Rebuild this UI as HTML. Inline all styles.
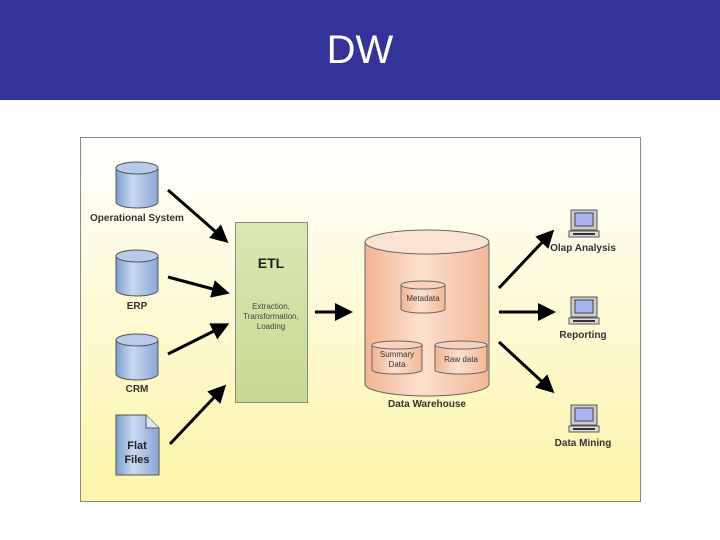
<!DOCTYPE html>
<html><head><meta charset="utf-8"><style>
body{margin:0;width:720px;height:540px;background:#fff;overflow:hidden;font-family:"Liberation Sans",sans-serif}
.h{position:absolute;left:0;top:0;width:720px;height:100px;background:#333399;color:#fff;font-size:40px;text-align:center;line-height:100px}
svg{position:absolute;left:0;top:0}
</style></head><body>
<div class="h">DW</div>
<svg width="720" height="540" font-family="Liberation Sans, sans-serif" font-weight="bold" font-size="10">
<defs>
<linearGradient id="bg" x1="0" y1="0" x2="0" y2="1"><stop offset="0" stop-color="#ffffff"/><stop offset="1" stop-color="#fcf5a8"/></linearGradient>
<linearGradient id="bl" x1="0" y1="0" x2="1" y2="0"><stop offset="0" stop-color="#7f9fd0"/><stop offset=".4" stop-color="#c9d8f0"/><stop offset="1" stop-color="#8aa6d6"/></linearGradient>
<linearGradient id="or" x1="0" y1="0" x2="1" y2="0"><stop offset="0" stop-color="#f2b493"/><stop offset=".45" stop-color="#fbe0cf"/><stop offset="1" stop-color="#f3b797"/></linearGradient>
<linearGradient id="gr" x1="0" y1="0" x2="0" y2="1"><stop offset="0" stop-color="#dce8b4"/><stop offset="1" stop-color="#c6d98f"/></linearGradient>
<marker id="a" markerWidth="6" markerHeight="6" refX="4" refY="3" orient="auto" markerUnits="strokeWidth"><path d="M0,0L6,3L0,6z" fill="#000"/></marker>
<g id="cyl"><path d="M0,6 V40 A21,6 0 0 0 42,40 V6" fill="url(#bl)" stroke="#555"/><ellipse cx="21" cy="6" rx="21" ry="6" fill="#b8cbea" stroke="#555"/></g>
<g id="pc"><rect x="0" y="0" width="26" height="20" fill="#ccc" stroke="#555"/><rect x="4" y="3" width="18" height="13" fill="#aab3f0" stroke="#444"/><rect x="-2" y="21" width="30" height="6" fill="#ddd" stroke="#555"/><rect x="2" y="23" width="22" height="2" fill="#333"/></g>
</defs>
<rect x="80.5" y="137.5" width="560" height="364" fill="url(#bg)" stroke="#888"/>
<use href="#cyl" x="116" y="162"/>
<use href="#cyl" x="116" y="250"/>
<use href="#cyl" x="116" y="334"/>
<text x="137" y="221" text-anchor="middle" fill="#333">Operational System</text>
<text x="137" y="309" text-anchor="middle" fill="#333">ERP</text>
<text x="137" y="392" text-anchor="middle" fill="#333">CRM</text>
<path d="M116,415 H146 L159,428 V475 H116z" fill="url(#bl)" stroke="#555"/>
<path d="M146,415 V428 H159" fill="#dde6f5" stroke="#555"/>
<text x="137" y="449" text-anchor="middle" font-size="11" fill="#222">Flat</text>
<text x="137" y="463" text-anchor="middle" font-size="11" fill="#222">Files</text>
<rect x="235.5" y="222.5" width="72" height="180" fill="url(#gr)" stroke="#888"/>
<text x="271" y="268" text-anchor="middle" font-size="14" fill="#222">ETL</text>
<g font-weight="normal" font-size="8" fill="#444" text-anchor="middle"><text x="271" y="309">Extraction,</text><text x="271" y="319">Transformation,</text><text x="271" y="329">Loading</text></g>
<g stroke="#000" stroke-width="3" marker-end="url(#a)">
<line x1="168" y1="190" x2="224" y2="239"/>
<line x1="168" y1="277" x2="224" y2="292"/>
<line x1="168" y1="354" x2="224" y2="326"/>
<line x1="170" y1="444" x2="222" y2="389"/>
<line x1="315" y1="312" x2="347" y2="312"/>
<line x1="499" y1="288" x2="550" y2="234"/>
<line x1="499" y1="312" x2="550" y2="312"/>
<line x1="499" y1="342" x2="550" y2="389"/>
</g>
<path d="M365,242 V384 A62,12 0 0 0 489,384 V242" fill="url(#or)" stroke="#666"/>
<ellipse cx="427" cy="242" rx="62" ry="12" fill="#fbe3d3" stroke="#666"/>
<g font-weight="normal" font-size="8" fill="#333" text-anchor="middle">
<path d="M401,285 V309 A22,4 0 0 0 445,309 V285" fill="url(#or)" stroke="#666"/><ellipse cx="423" cy="285" rx="22" ry="4" fill="#f8d2bd" stroke="#666"/><text x="423" y="301">Metadata</text>
<path d="M372,345 V370 A25,4 0 0 0 422,370 V345" fill="url(#or)" stroke="#666"/><ellipse cx="397" cy="345" rx="25" ry="4" fill="#f8d2bd" stroke="#666"/><text x="397" y="357">Summary</text><text x="397" y="367">Data</text>
<path d="M435,345 V370 A26,4 0 0 0 487,370 V345" fill="url(#or)" stroke="#666"/><ellipse cx="461" cy="345" rx="26" ry="4" fill="#f8d2bd" stroke="#666"/><text x="461" y="362">Raw data</text>
</g>
<text x="427" y="407" text-anchor="middle" fill="#333">Data Warehouse</text>
<use href="#pc" x="571" y="210"/>
<use href="#pc" x="571" y="297"/>
<use href="#pc" x="571" y="405"/>
<text x="583" y="251" text-anchor="middle" fill="#333">Olap Analysis</text>
<text x="583" y="338" text-anchor="middle" fill="#333">Reporting</text>
<text x="583" y="446" text-anchor="middle" fill="#333">Data Mining</text>
</svg>
</body></html>
